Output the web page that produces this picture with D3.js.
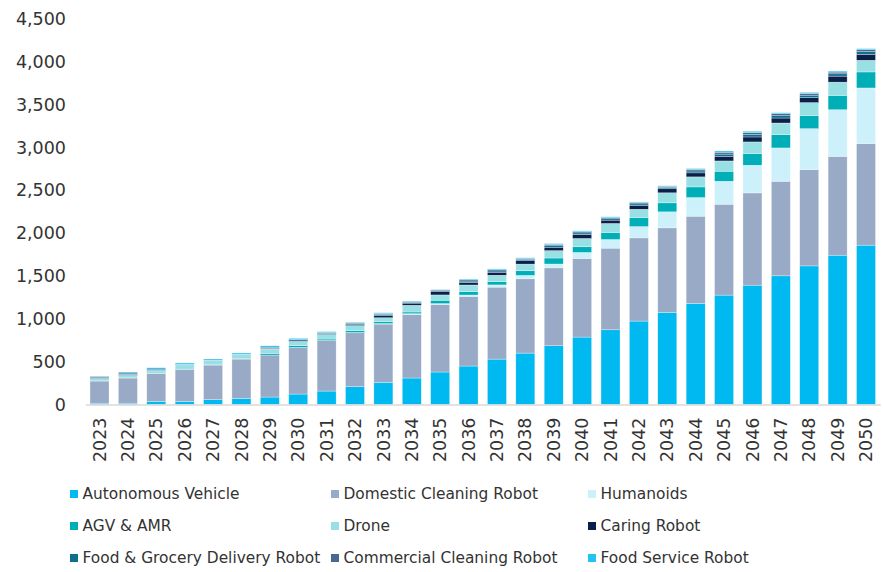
<!DOCTYPE html>
<html>
<head>
<meta charset="utf-8">
<script src="https://cdn.jsdelivr.net/npm/d3@7"></script>
<style>
  html, body { margin: 0; padding: 0; background: #fff; }
  svg { display: block; }
  text { font-family: "DejaVu Sans", Verdana, sans-serif; fill: #333; }
</style>
</head>
<body>
<svg id="chart" width="883" height="572"></svg>
<script>
// Stacked yearly totals by robot segment
const years = d3.range(2023, 2051).map(String);

const seriesNames = [
  "Autonomous Vehicle", "Domestic Cleaning Robot", "Humanoids",
  "AGV & AMR", "Drone", "Caring Robot",
  "Food & Grocery Delivery Robot", "Commercial Cleaning Robot", "Food Service Robot"
];

const seriesColors = [
  "#00b9f0", "#99aac7", "#cdf1fa",
  "#00aeb7", "#98e0e4", "#0b1f48",
  "#0f6e8c", "#4b6891", "#22c2f1"
];

const autonomousVehicle = [15, 15, 37, 37, 56, 72, 87, 122, 157, 208, 259, 309, 379, 449, 530, 600, 686, 787, 872, 974, 1075, 1180, 1277, 1393, 1502, 1618, 1743, 1860];
const domesticCleaning  = [259, 294, 322, 373, 404, 458, 490, 545, 591, 629, 680, 743, 789, 813, 840, 867, 909, 918, 953, 971, 987, 1018, 1061, 1077, 1104, 1124, 1154, 1186];
const humanoids         = [0, 0, 0, 0, 0, 0, 0, 0, 0, 3, 6, 8, 10, 16, 26, 40, 45, 70, 101, 132, 187, 218, 268, 323, 389, 478, 544, 649];
const agvAmr            = [2, 2, 2, 3, 3, 3, 19, 19, 16, 23, 23, 20, 39, 39, 39, 54, 70, 66, 82, 105, 105, 124, 117, 136, 155, 152, 167, 187];
const drone             = [27, 29, 29, 50, 50, 50, 50, 47, 54, 58, 45, 78, 62, 78, 74, 78, 86, 97, 105, 97, 117, 117, 120, 136, 136, 152, 155, 136];
const caringRobot       = [4, 4, 3, 1, 1, 1, 2, 2, 10, 8, 23, 25, 43, 31, 35, 39, 40, 47, 39, 47, 47, 47, 54, 58, 58, 58, 70, 70];
const foodGrocery       = [6, 8, 8, 1, 1, 1, 5, 5, 5, 12, 14, 10, 9, 15, 15, 14, 17, 18, 16, 16, 15, 22, 26, 28, 27, 29, 27, 31];
const commercialClean   = [14, 15, 12, 2, 2, 2, 16, 16, 5, 10, 12, 9, 8, 14, 14, 12, 14, 14, 13, 13, 12, 18, 22, 24, 23, 20, 20, 23];
const foodService       = [3, 12, 16, 17, 14, 14, 16, 16, 12, 9, 9, 6, 6, 10, 10, 9, 11, 10, 10, 10, 8, 10, 14, 14, 12, 12, 12, 12];

const yTicks = [0, 500, 1000, 1500, 2000, 2500, 3000, 3500, 4000, 4500];

const seriesValues = [
  autonomousVehicle, domesticCleaning, humanoids, agvAmr, drone,
  caringRobot, foodGrocery, commercialClean, foodService
];

// one row per year for d3.stack
const rows = years.map((yr, i) => {
  const r = { year: yr };
  seriesNames.forEach((name, k) => { r[name] = seriesValues[k][i]; });
  return r;
});

const svg = d3.select("#chart");

const x = d3.scaleBand()
  .domain(years)
  .range([85.3, 880.2])
  .paddingInner(0.33)
  .paddingOuter(0.165);

const y = d3.scaleLinear()
  .domain([0, 4500])
  .range([404.5, 19]);

const color = d3.scaleOrdinal().domain(seriesNames).range(seriesColors);

const stacked = d3.stack().keys(seriesNames)(rows);

// bars
svg.append("g")
  .selectAll("g")
  .data(stacked)
  .join("g")
    .attr("fill", d => color(d.key))
  .selectAll("rect")
  .data(d => d)
  .join("rect")
    .attr("x", d => x(d.data.year))
    .attr("width", x.bandwidth())
    .attr("y", d => y(d[1]))
    .attr("height", d => Math.max(0, y(d[0]) - y(d[1])))
    .attr("stroke", "#ffffff")
    .attr("stroke-width", 0.5)
    .attr("stroke-opacity", 0.6);

// y axis labels (no line, no ticks)
const yAxis = svg.append("g")
  .attr("transform", "translate(66,0)")
  .call(d3.axisLeft(y).tickValues(yTicks).tickSize(0).tickPadding(0).tickFormat(d3.format(",")));
yAxis.select(".domain").remove();
yAxis.selectAll("text")
  .style("font-family", "'DejaVu Sans', Verdana, sans-serif")
  .style("font-size", "17.5px")
  .attr("fill", "#333");

// x axis: light baseline plus rotated year labels
const xAxis = svg.append("g")
  .attr("transform", `translate(0,${y(0)})`)
  .call(d3.axisBottom(x).tickSize(0).tickPadding(0));
xAxis.select(".domain")
  .attr("stroke", "#d9d9d9")
  .attr("stroke-width", 1.5);
xAxis.selectAll("text")
  .style("font-family", "'DejaVu Sans', Verdana, sans-serif")
  .style("font-size", "17.5px")
  .attr("fill", "#333")
  .attr("text-anchor", "end")
  .attr("transform", "rotate(-90)")
  .attr("x", -13)
  .attr("y", 0)
  .attr("dy", "0.35em");

// legend: three columns, three rows
const legendCols = [70, 331, 588];
const legendRows = [494, 526, 558];
const legend = svg.append("g");
seriesNames.forEach((name, k) => {
  const cx = legendCols[k % 3];
  const cy = legendRows[Math.floor(k / 3)];
  const item = legend.append("g").attr("transform", `translate(${cx},${cy})`);
  item.append("rect")
    .attr("x", 0).attr("y", -4)
    .attr("width", 8).attr("height", 8)
    .attr("fill", color(name));
  item.append("text")
    .attr("x", 12.5).attr("y", 0).attr("dy", "0.35em")
    .style("font-size", "15.4px")
    .text(name);
});
</script>
</body>
</html>
